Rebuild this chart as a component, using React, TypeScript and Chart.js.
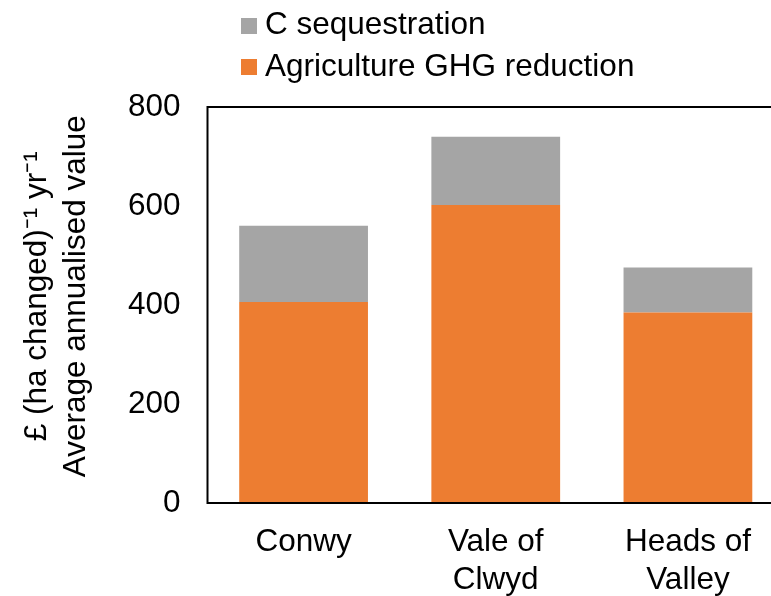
import React, { useEffect, useRef } from "react";
import { Chart, registerables } from "chart.js";

Chart.register(...registerables);

const categories: (string | string[])[] = ["Conwy", ["Vale of", "Clwyd"], ["Heads of", "Valley"]];
const agricultureGHG = [406, 602, 385];
const cSequestration = [154, 138, 91];
const yTicks = [0, 200, 400, 600, 800];
const seriesNames = ["Agriculture GHG reduction", "C sequestration"];
const seriesColors = ["#ED7D31", "#A5A5A5"];
const yTitle = ["  £ (ha changed)⁻¹ yr⁻¹", "  Average annualised value"];

const FONT = "'Liberation Sans', Arial, sans-serif";
const FS = 31.5;

const boxPlugin = {
  id: "plotBox",
  afterDraw(chart: any) {
    const { ctx, chartArea } = chart;
    ctx.save();
    ctx.strokeStyle = "#000";
    ctx.lineWidth = 2;
    ctx.strokeRect(chartArea.left, chartArea.top, chartArea.right - chartArea.left, chartArea.bottom - chartArea.top);
    ctx.restore();
  },
};

export default function App() {
  const ref = useRef<HTMLCanvasElement | null>(null);
  useEffect(() => {
    if (!ref.current) return;
    const chart = new Chart(ref.current, {
      type: "bar",
      data: {
        labels: categories,
        datasets: [
          { label: seriesNames[0], data: agricultureGHG, backgroundColor: seriesColors[0], borderWidth: 0 },
          { label: seriesNames[1], data: cSequestration, backgroundColor: seriesColors[1], borderWidth: 0 },
        ],
      },
      options: {
        animation: false,
        responsive: true,
        maintainAspectRatio: false,
        layout: { padding: { top: 107, right: 16, bottom: 0, left: 0 } },
        plugins: { legend: { display: false }, tooltip: { enabled: false } },
        datasets: { bar: { categoryPercentage: 1, barPercentage: 0.67 } },
        scales: {
          x: {
            stacked: true,
            grid: { display: false, drawTicks: false },
            border: { display: false },
            ticks: { color: "#000", font: { family: FONT, size: FS, lineHeight: 1.19 }, padding: 21, maxRotation: 0 },
            afterFit: (s: any) => { s.height = 93; },
          },
          y: {
            stacked: true,
            min: 0,
            max: 800,
            grid: { display: false, drawTicks: false },
            border: { display: false },
            afterBuildTicks: (s: any) => { s.ticks = yTicks.map((v) => ({ value: v })); },
            ticks: { color: "#000", font: { family: FONT, size: FS }, padding: 27 },
            title: {
              display: true,
              text: yTitle,
              color: "#000",
              font: { family: FONT, size: FS, lineHeight: 1.24 },
              padding: { top: 17.5, bottom: 0 },
            },
            afterFit: (s: any) => { s.width = 207.5; },
          },
        },
      },
      plugins: [boxPlugin],
    });
    return () => chart.destroy();
  }, []);

  const legendRows = [
    { name: seriesNames[1], color: seriesColors[1], top: 5.2, sq: 18 },
    { name: seriesNames[0], color: seriesColors[0], top: 46.7, sq: 59 },
  ];

  return (
    <div style={{ position: "fixed", left: 0, top: 0, width: 771, height: 596, overflow: "hidden", background: "#fff" }}>
      <div style={{ position: "absolute", left: 0, top: 0, width: 800, height: 596 }}>
        <canvas ref={ref} />
      </div>
      {legendRows.map((r) => (
        <React.Fragment key={r.name}>
          <div style={{ position: "absolute", left: 241, top: r.sq, width: 16, height: 16, background: r.color }} />
          <div
            style={{
              position: "absolute",
              left: 265,
              top: r.top,
              fontFamily: FONT,
              fontSize: FS,
              lineHeight: "36px",
              color: "#000",
              whiteSpace: "nowrap",
            }}
          >
            {r.name}
          </div>
        </React.Fragment>
      ))}
    </div>
  );
}
